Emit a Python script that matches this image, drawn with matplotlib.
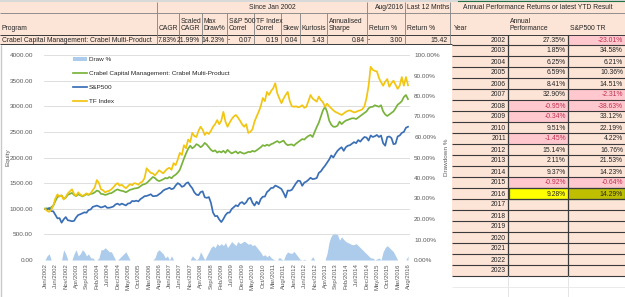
import matplotlib.pyplot as plt
import matplotlib.patches as patches
from matplotlib.lines import Line2D
import pandas as pd

plt.rcParams['font.family'] = ['Liberation Sans', 'DejaVu Sans']

W, H = 625, 297

# monthly series, Jan/2002 .. Aug/2016
months = pd.date_range('2002-01-01', periods=176, freq='MS').strftime('%b/%Y').tolist()

crabel = [
    1000, 1010, 985, 1030, 1060, 1150, 1230, 1245, 1260, 1195, 1215, 1273,
    1290, 1310, 1270, 1245, 1280, 1265, 1240, 1260, 1285, 1270, 1290, 1297,
    1320, 1355, 1340, 1290, 1285, 1270, 1280, 1300, 1305, 1330, 1360, 1378,
    1360, 1350, 1340, 1320, 1345, 1370, 1380, 1395, 1400, 1410, 1440, 1469,
    1480, 1500, 1540, 1580, 1620, 1600, 1560, 1540, 1555, 1575, 1600, 1592,
    1620, 1595, 1640, 1665, 1705, 1760, 1870, 1980, 2080, 2170, 2230, 2180,
    2210, 2260, 2240, 2200, 2230, 2285, 2250, 2200, 2150, 2120, 2140, 2096,
    2120, 2100, 2130, 2090, 2150, 2110, 2080, 2100, 2120, 2080, 2110, 2089,
    2075, 2090, 2110, 2105, 2130, 2115, 2140, 2170, 2200, 2240, 2225, 2250,
    2230, 2260, 2275, 2300, 2320, 2290, 2310, 2330, 2270, 2240, 2250, 2255,
    2230, 2270, 2300, 2330, 2360, 2350, 2390, 2420, 2440, 2400, 2500, 2596,
    2680, 2800, 2920, 2990, 2890, 2720, 2640, 2600, 2600, 2620, 2700, 2651,
    2690, 2720, 2735, 2750, 2765, 2765, 2750, 2780, 2810, 2840, 2870, 2900,
    2960, 2985, 2990, 3020, 3005, 2990, 3020, 2900, 2840, 2810, 2840, 2872,
    2900, 2960, 3030, 3060, 3100, 3180, 3220, 3139,
]

sp500 = [
    1000, 981, 1017, 956, 949, 881, 813, 817, 728, 792, 838, 775,
    768, 756, 763, 830, 878, 892, 910, 930, 922, 975, 985, 1036,
    1050, 1062, 1045, 1025, 1036, 1055, 1018, 1020, 1030, 1045, 1085, 1100,
    1075, 1100, 1082, 1065, 1102, 1108, 1152, 1145, 1158, 1143, 1188, 1215,
    1245, 1250, 1265, 1283, 1245, 1248, 1255, 1283, 1313, 1355, 1378, 1391,
    1410, 1382, 1396, 1455, 1500, 1475, 1428, 1445, 1495, 1515, 1450, 1400,
    1320, 1275, 1265, 1325, 1340, 1225, 1212, 1228, 1115, 925, 855, 860,
    790, 740, 800, 875, 922, 925, 995, 1030, 1068, 1048, 1110, 1130,
    1090, 1125, 1195, 1215, 1118, 1062, 1138, 1088, 1188, 1235, 1238, 1325,
    1360, 1405, 1408, 1452, 1435, 1412, 1385, 1310, 1220, 1355, 1352, 1370,
    1435, 1498, 1548, 1540, 1448, 1510, 1530, 1565, 1605, 1578, 1585, 1600,
    1700, 1730, 1790, 1840, 1900, 1960, 2040, 2000, 2070, 2130, 2170, 2200,
    2130, 2200, 2230, 2240, 2270, 2300, 2280, 2340, 2310, 2360, 2400, 2390,
    2330, 2430, 2400, 2415, 2440, 2400, 2430, 2280, 2230, 2400, 2410, 2380,
    2260, 2270, 2410, 2430, 2480, 2500, 2580, 2600,
]

tf_index = [
    1000, 960, 940, 980, 1060, 1200, 1280, 1240, 1260, 1180, 1230, 1300,
    1340, 1380, 1290, 1250, 1320, 1280, 1250, 1270, 1300, 1280, 1300, 1360,
    1420, 1560, 1500, 1380, 1360, 1320, 1340, 1350, 1380, 1420, 1470, 1500,
    1450, 1470, 1430, 1400, 1440, 1480, 1460, 1500, 1490, 1470, 1510, 1530,
    1600, 1790, 1740, 1700, 1690, 1650, 1700, 1750, 1720, 1690, 1740, 1780,
    1800, 1760, 1890, 1850, 1960, 2090, 2050, 2240, 2180, 2350, 2300, 2480,
    2420, 2400, 2520, 2600, 2540, 2440, 2490, 2460, 2520, 2600, 2650, 2730,
    2650, 2720, 2890, 2700, 2600, 2680, 2750, 2800, 2830, 2780, 2720, 2650,
    2600, 2650, 2480, 2500, 2550, 2700, 2800, 2890, 3000, 3160, 3100, 3280,
    3220, 3300, 3350, 3450, 3250, 3150, 3060, 3150, 3220, 3280, 3100, 3000,
    2990, 3000, 2980, 2990, 3020, 2970, 2990, 3100, 3220, 3150, 3120, 3090,
    3190, 3120, 3080, 2990, 3050, 3000, 2960, 2920, 2890, 2870, 2850, 2830,
    2860, 2890, 2910, 2920, 2900, 2880, 2890, 2910, 2920, 2940, 3000, 3160,
    3400, 3770, 3710, 3690, 3680, 3550, 3470, 3400, 3480, 3530, 3380, 3450,
    3500, 3420, 3340, 3400, 3570, 3400, 3570, 3410,
]

draw_pct = [
    0, 2, 3, 0, 0, 0, 0, 0, 0, 5, 3, 0,
    0, 0, 3, 5, 2, 3, 5, 4, 2, 3, 1, 1,
    0, 0, 1, 5, 5, 6, 5, 4, 4, 2, 0, 0,
    1, 2, 3, 4, 2, 0, 0, 0, 0, 0, 0, 0,
    0, 0, 0, 0, 0, 1, 4, 5, 4, 3, 1, 2,
    0, 2, 0, 0, 0, 0, 0, 0, 0, 0, 0, 2,
    1, 0, 1, 4, 2, 0, 2, 4, 6, 7, 6, 8,
    7, 8, 7, 8.5, 6, 7.5, 9, 8, 7, 9, 8, 8.5,
    9.2, 8.5, 7.7, 8, 7, 7.5, 6.3, 5, 3.7, 2, 2.6, 1.5,
    2.4, 1.1, 0.4, 0, 0, 1.3, 0.4, 0, 2.6, 3.9, 3.4, 3.2,
    4.2, 2.9, 1.6, 0.3, 0, 0.4, 0, 0, 0, 1.6, 0, 0,
    0, 0, 0, 0, 3.3, 9, 11.7, 13, 13, 12.4, 9.7, 11.3,
    10, 9, 8.5, 8, 7.5, 7.5, 8, 7, 6, 5, 4, 3,
    2, 1, 1, 0, 0.5, 1, 0, 4, 6, 7, 6, 5,
    4, 2, 0, 0, 0, 0, 0, 2,
]

# summary row
program = 'Crabel Capital Management: Crabel Multi-Product'
stat_headers = ['CAGR', 'Scaled\nCAGR', 'Max\nDraw%', 'S&P 500\nCorrel', 'TF Index\nCorrel',
                'Skew', 'Kurtosis', 'Annualised\nSharpe', 'Return %', 'Return %']
stat_values = ['7.83%', '21.99%', '14.23%', '0.07', '0.19', '0.04', '1.43', '0.84', '3.00', '15.42']

# annual table
years = list(range(2002, 2024))
annual_perf = [27.35, 1.85, 6.25, 6.59, 8.41, 32.90, -0.95, -0.34, 9.51, -1.45,
               15.14, 2.11, 9.37, -0.92, 9.28]
sp500_tr = [-23.01, 34.58, 6.21, 10.36, 14.51, -2.31, -38.63, 33.12, 22.19, 4.22,
            16.76, 21.53, 14.23, -0.64, 14.29]

PEACH = '#FCE4D6'
PINK = '#FFC7CE'
NEG_TXT = '#C0304F'
TXT = '#262626'
AX_TXT = '#595959'
LINE = '#808080'
DARK = '#3A3A3A'
FS = 4.85
LW = 1.25

fig = plt.figure(figsize=(W / 100, H / 100), dpi=100)
bg = fig.add_axes([0, 0, 1, 1], zorder=0)
bg.set_xlim(0, W)
bg.set_ylim(H, 0)
bg.axis('off')


def box(x0, y0, x1, y1, fc):
    bg.add_patch(patches.Rectangle((x0, y0), x1 - x0, y1 - y0, facecolor=fc,
                                   edgecolor='none', linewidth=0))


def hline(y, x0, x1, c=LINE, lw=0.6):
    bg.plot([x0, x1], [y, y], color=c, lw=lw, solid_capstyle='butt')


def vline(x, y0, y1, c=LINE, lw=0.6):
    bg.plot([x, x], [y0, y1], color=c, lw=lw, solid_capstyle='butt')


def txt(x, y, s, ha='left', color=TXT, **kw):
    bg.text(x, y, s, ha=ha, va='center', fontsize=FS, color=color, **kw)


# ---- header block ----
box(0, 0, W, 44, PEACH)
box(0, 0, W, 2, '#D9D9D9')
hline(13, 0, W)
hline(34.5, 0, W, DARK, 0.7)
hline(44, 0, 452, DARK, 0.7)
bg.plot([458, W], [1, 1], color='#217346', lw=0.8)

col_edges = [157, 179, 202, 227, 254, 281, 300, 327, 367, 405, 450]
for x in col_edges:
    vline(x, 13, 44)
for x in [157, 367, 405, 450]:
    vline(x, 2, 13)

txt(272, 7.5, 'Since Jan 2002', ha='center')
txt(404, 7.5, 'Aug/2016', ha='right')
txt(407, 7.5, 'Last 12 Mnths')
txt(538, 7.5, 'Annual Performance Returns or latest YTD Result', ha='center')

txt(2, 29, 'Program')
for x, h in zip(col_edges[:-1], stat_headers):
    parts = h.split('\n')
    if len(parts) == 2:
        txt(x + 2, 21.5, parts[0])
        txt(x + 2, 29, parts[1])
    else:
        txt(x + 2, 29, h)
txt(454, 29, 'Year')
txt(510, 21.5, 'Annual')
txt(510, 29, 'Performance')
txt(570, 29, 'S&P500 TR')

txt(2, 40, program)
for x_right, v in zip(col_edges[1:], stat_values):
    txt(x_right - 2, 40, v, ha='right')
txt(228, 40, '-')
txt(368, 40, '-')

# ---- annual table ----
edges = [34.5] + [45 + 11 * j for j in range(22)]
box(452, 44, W, edges[-1], PEACH)
for k, yr in enumerate(years):
    y0, y1 = edges[k], edges[k + 1]
    yc = (y0 + y1) / 2 + 0.5
    txt(506, yc, str(yr), ha='right')
    if k < len(annual_perf):
        a, s = annual_perf[k], sp500_tr[k]
        if yr == 2016:
            box(508, y0, 568, y1, '#FFFF00')
            box(568, y0, W, y1, '#BFBF00')
        if a < 0:
            box(508, y0, 568, y1, PINK)
        if s < 0:
            box(568, y0, W, y1, PINK)
        txt(566, yc, f'{a:.2f}%', ha='right', color=NEG_TXT if a < 0 else TXT)
        txt(623, yc, f'{s:.2f}%', ha='right', color=NEG_TXT if s < 0 else TXT)
for y in edges[1:]:
    hline(y, 452, W, DARK, 0.8)
vline(508, 34.5, edges[-1], DARK, 0.9)
vline(568, 34.5, edges[-1], DARK, 0.9)
sel = edges[14]
bg.add_patch(patches.Rectangle((508.5, sel), W - 509, 11, facecolor='none',
                               edgecolor='#217346', linewidth=0.9))
vline(508, edges[-1], H, '#E0E0E0')
vline(568, edges[-1], H, '#E0E0E0')
hline(287, 452, W, '#E8E8E8')

# ---- chart area ----
box(0, 44.5, 452, H, 'white')
vline(0.6, 44.5, H, '#C8C8C8', 1.0)

x = list(range(len(months)))
ax2 = fig.add_axes([44 / W, 1 - 260 / H, (410 - 44) / W, (260 - 55) / H], zorder=1)
ax = fig.add_axes([44 / W, 1 - 260 / H, (410 - 44) / W, (260 - 55) / H], zorder=2)
ax.patch.set_visible(False)
ax2.patch.set_visible(False)

ax2.fill_between(x, [d / 100 for d in draw_pct], 0, color='#ADCBEA', lw=0)
ax2.set_ylim(0, 1)
ax2.yaxis.tick_right()
ax2.set_yticks([i / 10 for i in range(11)])
ax2.set_yticklabels([f'{i * 10:.2f}%' for i in range(11)])

ax.plot(x, crabel, color='#7AB33C', lw=LW)
ax.plot(x, sp500, color='#3A6FB5', lw=LW)
ax.plot(x, tf_index, color='#F2C510', lw=LW)
ax.set_ylim(0, 4000)
ax.set_yticks(range(0, 4001, 500))
ax.set_yticklabels([f'{v:.2f}' for v in range(0, 4001, 500)])
ax.grid(axis='y', color='#D9D9D9', lw=0.6)
ax.set_axisbelow(True)

for a in (ax, ax2):
    a.set_xlim(-0.48, 175.96)
    for s in a.spines.values():
        s.set_visible(False)
    a.tick_params(length=0, labelsize=4.6, labelcolor=AX_TXT)

ax.tick_params(axis='y', pad=8)
ax2.tick_params(axis='y', pad=3)
ax.set_xticks(x[::5])
ax.set_xticklabels(months[::5], rotation=90, fontsize=4.3)
ax.tick_params(axis='x', pad=2.5)
ax2.set_xticks([])

bg.text(8, 157, 'Equity', rotation=90, ha='center', va='center', fontsize=4.6, color=AX_TXT)
bg.text(447, 157, 'Drawdown %', rotation=90, ha='center', va='center', fontsize=4.6, color=AX_TXT)

handles = [
    patches.Patch(facecolor='#ADCBEA', edgecolor='none'),
    Line2D([], [], color='#7AB33C', lw=LW),
    Line2D([], [], color='#3A6FB5', lw=LW),
    Line2D([], [], color='#F2C510', lw=LW),
]
labels = ['Draw %', program, 'S&P500', 'TF Index']
ax.legend(handles, labels, loc='upper left', bbox_to_anchor=(70 / W, 1 - 54 / H),
          bbox_transform=fig.transFigure, frameon=False, fontsize=4.6,
          handlelength=2.2, handleheight=0.6, labelspacing=1.35, handletextpad=0.3,
          borderpad=0, labelcolor=TXT)

fig.savefig('out.png', dpi=100)
